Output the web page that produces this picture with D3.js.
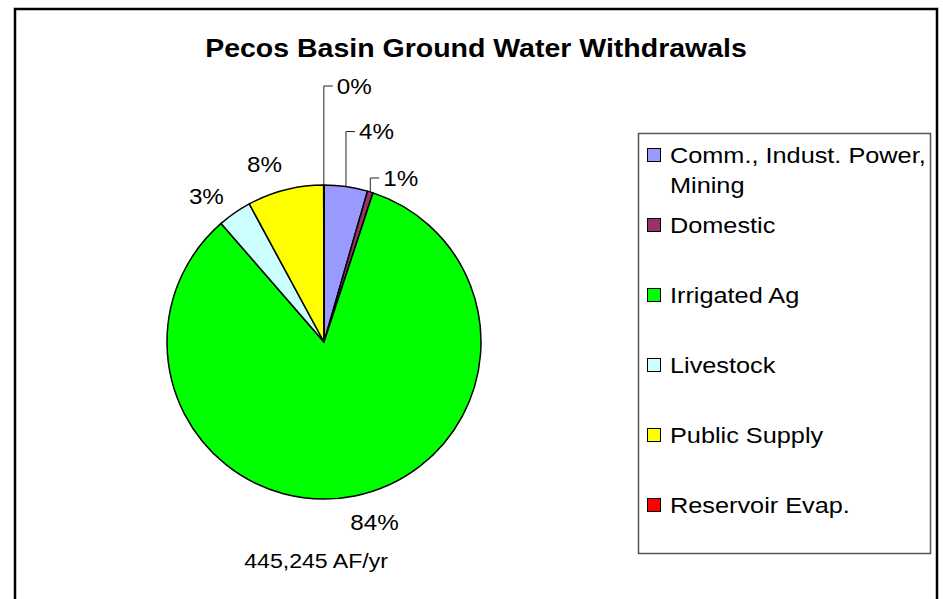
<!DOCTYPE html>
<meta charset="utf-8">
<script src="https://d3js.org/d3.v7.min.js"></script>
<style>
body { margin: 0; background: #fff; }
svg text { font-family: "Liberation Sans", Arial, sans-serif; fill: #000; }
</style>
<div id="my_dataviz"></div>
<script>
// ground water withdrawals, AF/yr
var categories = ["Comm., Indust. Power, Mining", "Domestic", "Irrigated Ag", "Livestock", "Public Supply", "Reservoir Evap."]
var withdrawals = [19900, 2600, 372100, 15500, 35000, 145]
var sliceColors = ["#9999FF", "#993366", "#00FF00", "#CCFFFF", "#FFFF00", "#FF0000"]
var title = "Pecos Basin Ground Water Withdrawals"
var units = "AF/yr"

var width = 943, height = 599
var cx = 324, cy = 342, radius = 157

// the source font is a little wider than Arial, so text gets a horizontal stretch
var place = function(sel, x, y, sx) {
  return sel.attr("transform", "translate(" + x + "," + y + ") scale(" + sx + ",1)")
}

var svg = d3.select("#my_dataviz")
  .append("svg")
    .attr("width", width)
    .attr("height", height)

// outer chart frame (runs off the bottom of the picture)
svg.append("rect")
  .attr("x", 15)
  .attr("y", 9)
  .attr("width", 922)
  .attr("height", 620)
  .style("fill", "none")
  .style("stroke", "#000")
  .style("stroke-width", 2.5)

svg.append("text")
  .call(place, 476, 57, 1.14)
  .attr("text-anchor", "middle")
  .style("font-size", "25px")
  .style("font-weight", "bold")
  .text(title)

var data = categories.map(function(c, i) { return {name: c, value: withdrawals[i], color: sliceColors[i]} })
var total = d3.sum(withdrawals)

var pie = d3.pie()
  .sort(null)
  .value(function(d) { return d.value })
var arcs = pie(data)

var arc = d3.arc().innerRadius(0).outerRadius(radius)
var labelR = radius + 30, labelTurn = -0.075

var g = svg.append("g")
  .attr("transform", "translate(" + cx + "," + cy + ")")

g.selectAll("path")
  .data(arcs)
  .enter()
  .append("path")
    .attr("d", arc)
    .style("fill", function(d) { return d.data.color })
    .style("stroke", "#000")
    .style("stroke-width", 1.5)
    .style("stroke-linejoin", "round")

var pct = d3.format(".0%")

// small slices get lifted labels with a leader line (how far above the rim)
var leaderRise = {"Reservoir Evap.": 99, "Comm., Indust. Power, Mining": 55, "Domestic": 14}

arcs.forEach(function(d) {
  var txt = pct(d.data.value / total)
  var rise = leaderRise[d.data.name]
  var mid = (d.startAngle + d.endAngle) / 2
  if (rise === undefined) {
    var a = mid + labelTurn
    g.append("text")
      .call(place, labelR * Math.sin(a), -labelR * Math.cos(a), 1.1)
      .attr("text-anchor", "middle")
      .attr("dy", "0.35em")
      .style("font-size", "22px")
      .text(txt)
  } else {
    var ex = radius * Math.sin(mid), ey = -radius * Math.cos(mid)
    g.append("polyline")
      .attr("points", [[ex, ey], [ex, ey - rise], [ex + 9, ey - rise]].join(" "))
      .style("fill", "none")
      .style("stroke", "#222")
      .style("stroke-width", 1)
    g.append("text")
      .call(place, ex + 13, ey - rise, 1.1)
      .attr("dy", "0.35em")
      .style("font-size", "22px")
      .text(txt)
  }
})

g.append("text")
  .call(place, 64, 226, 1.1)
  .attr("text-anchor", "end")
  .style("font-size", "21px")
  .text(d3.format(",")(total) + " " + units)

// legend
var legend = svg.append("g")
legend.append("rect")
  .attr("x", 638.5)
  .attr("y", 133.5)
  .attr("width", 292)
  .attr("height", 420)
  .style("fill", "#fff")
  .style("stroke", "#555")
  .style("stroke-width", 1.5)

var item = legend.selectAll("g.item")
  .data(data)
  .enter()
  .append("g")
    .attr("class", "item")
    .attr("transform", function(d, i) { return "translate(647," + (163 + i * 70) + ")" })

item.append("rect")
  .attr("x", 0.5)
  .attr("y", -14.5)
  .attr("width", 13)
  .attr("height", 13)
  .style("fill", function(d) { return d.color })
  .style("stroke", "#000")
  .style("stroke-width", 1)

item.append("text")
  .call(place, 23, 0, 1.15)
  .style("font-size", "22px")
  .each(function(d) {
    var cut = d.name.indexOf("Power, ")
    var lines = cut > 0 ? [d.name.slice(0, cut + 6), d.name.slice(cut + 7)] : [d.name]
    d3.select(this).selectAll("tspan")
      .data(lines)
      .enter()
      .append("tspan")
        .attr("x", 0)
        .attr("dy", function(l, j) { return j ? 30 : 0 })
        .text(function(l) { return l })
  })
</script>
